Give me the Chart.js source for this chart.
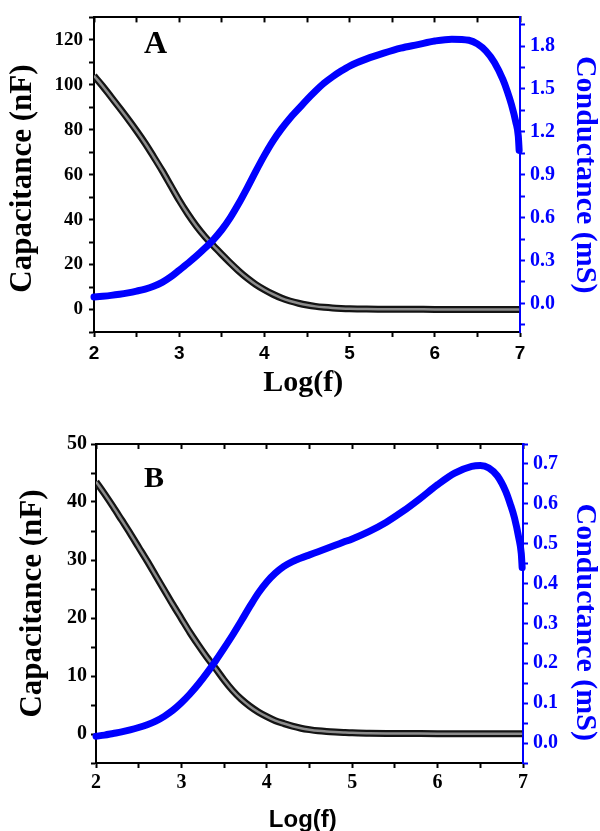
<!DOCTYPE html>
<html lang="en">
<head>
<meta charset="UTF-8">
<title>Capacitance and Conductance vs Log(f)</title>
<script src="https://cdn.jsdelivr.net/npm/chart.js"></script>
<style>
  body { margin: 0; background: #fff; }
  #wrap { position: relative; width: 600px; height: 831px; }
  #wrap canvas { position: absolute; left: 0; }
</style>
</head>
<body>
<div id="wrap">
  <canvas id="chartA" width="600" height="415" style="top:0"></canvas>
  <canvas id="chartB" width="600" height="416" style="top:415px"></canvas>
</div>
<script>
// ---- data ----
// log(f) positions, shared by both panels
const logF = [2.0, 2.1, 2.2, 2.3, 2.4, 2.5, 2.6, 2.7, 2.8, 2.9,
              3.0, 3.1, 3.2, 3.3, 3.4, 3.5, 3.6, 3.7, 3.8, 3.9,
              4.0, 4.1, 4.2, 4.3, 4.4, 4.5, 4.6, 4.7, 4.8, 4.9,
              5.0, 5.2, 5.4, 5.6, 5.8, 6.0, 6.2, 6.4, 6.5, 6.6,
              6.7, 6.8, 6.85, 6.9, 6.95, 6.98, 6.99];

// panel A
const capA = [104, 99.5, 94.6, 89.7, 84.7, 79.5, 74, 68, 61.8, 55.2,
              48.6, 42.6, 37.2, 32.5, 28.4, 24.5, 20.7, 17.1, 13.9, 11.1,
              8.8, 6.8, 5.1, 3.8, 2.8, 2.0, 1.4, 1.0, 0.7, 0.5,
              0.35, 0.2, 0.15, 0.1, 0.08, 0.06, 0.05, 0.05, 0.04, 0.04,
              0.04, 0.04, 0.03, 0.03, 0.03, 0.03, 0.03];
const condA = [0.045, 0.05, 0.056, 0.064, 0.074, 0.086, 0.1, 0.12, 0.147, 0.185,
               0.232, 0.28, 0.33, 0.385, 0.445, 0.515, 0.6, 0.7, 0.81, 0.925,
               1.035, 1.135, 1.22, 1.295, 1.36, 1.425, 1.485, 1.54, 1.585, 1.625,
               1.66, 1.71, 1.75, 1.785, 1.81, 1.835, 1.848, 1.84, 1.815, 1.765,
               1.685, 1.565, 1.485, 1.39, 1.27, 1.17, 1.07];

// panel B
const capB = [43.5, 41.4, 39.2, 36.9, 34.6, 32.2, 29.8, 27.3, 24.8, 22.3,
              19.9, 17.5, 15.3, 13.2, 11.3, 9.3, 7.5, 6.0, 4.8, 3.8,
              3.0, 2.3, 1.8, 1.35, 1.0, 0.75, 0.55, 0.42, 0.33, 0.26,
              0.2, 0.14, 0.1, 0.08, 0.07, 0.06, 0.05, 0.05, 0.05, 0.05,
              0.05, 0.05, 0.05, 0.05, 0.05, 0.05, 0.05];
const condB = [0.017, 0.02, 0.024, 0.028, 0.033, 0.039, 0.046, 0.055, 0.067, 0.082,
               0.101, 0.123, 0.148, 0.176, 0.206, 0.238, 0.271, 0.306, 0.342, 0.376,
               0.404, 0.426, 0.443, 0.455, 0.464, 0.472, 0.48, 0.488, 0.496, 0.504,
               0.512, 0.531, 0.554, 0.582, 0.614, 0.648, 0.677, 0.694, 0.696, 0.69,
               0.67, 0.63, 0.6, 0.565, 0.515, 0.475, 0.44];

// ticks
const xTicks = [2, 2.5, 3, 3.5, 4, 4.5, 5, 5.5, 6, 6.5, 7];
const xLabels = [2, 3, 4, 5, 6, 7];
const capTicksA = [-10, 0, 10, 20, 30, 40, 50, 60, 70, 80, 90, 100, 110, 120, 130];
const capLabelsA = [0, 20, 40, 60, 80, 100, 120];
const condTicksA = [-0.15, 0, 0.15, 0.3, 0.45, 0.6, 0.75, 0.9, 1.05, 1.2, 1.35, 1.5, 1.65, 1.8, 1.95];
const condLabelsA = [0, 0.3, 0.6, 0.9, 1.2, 1.5, 1.8];
const capTicksB = [-5, 0, 5, 10, 15, 20, 25, 30, 35, 40, 45, 50];
const capLabelsB = [0, 10, 20, 30, 40, 50];
const condTicksB = [-0.05, 0, 0.05, 0.1, 0.15, 0.2, 0.25, 0.3, 0.35, 0.4, 0.45, 0.5, 0.55, 0.6, 0.65, 0.7, 0.75];
const condLabelsB = [0, 0.1, 0.2, 0.3, 0.4, 0.5, 0.6, 0.7];

const SERIF = "'Liberation Serif', 'Times New Roman', serif";
const SANS = "'Liberation Sans', Arial, sans-serif";
const BLUE = '#0000ff';

const pts = (xs, ys) => xs.map((x, i) => ({ x: x, y: ys[i] }));
const fixedTicks = vals => scale => { scale.ticks = vals.map(v => ({ value: v })); };
const grid = color => ({ display: true, drawOnChartArea: false, drawTicks: true,
                         tickLength: 5, tickWidth: 2, tickColor: color });

// draws the panel letter (A / B)
const panelTag = {
  id: 'panelTag',
  afterDraw(chart, args, o) {
    const ctx = chart.ctx;
    ctx.save();
    ctx.font = 'bold ' + o.size + 'px ' + SERIF;
    ctx.fillStyle = '#000';
    ctx.textBaseline = 'alphabetic';
    ctx.fillText(o.text, o.x, o.y);
    ctx.restore();
  }
};

function makePanel(id, p) {
  const datasets = [
    { data: pts(logF, p.cond), yAxisID: 'yR', order: 0,
      borderColor: BLUE, borderWidth: 7, borderCapStyle: 'round', borderJoinStyle: 'round',
      pointRadius: 0, cubicInterpolationMode: 'monotone', clip: 6 },
    { data: pts(logF, p.cap), yAxisID: 'y', order: 1,
      borderColor: '#8c8c8c', borderWidth: 2.5, pointRadius: 0, cubicInterpolationMode: 'monotone' },
    { data: pts(logF, p.cap), yAxisID: 'y', order: 2,
      borderColor: '#141414', borderWidth: 7, pointRadius: 0, cubicInterpolationMode: 'monotone' }
  ];

  return new Chart(document.getElementById(id), {
    type: 'line',
    data: { datasets: datasets },
    plugins: [panelTag],
    options: {
      responsive: false,
      devicePixelRatio: 1,
      animation: false,
      layout: { padding: { top: p.top, left: 0, right: 0, bottom: 0 } },
      plugins: {
        legend: { display: false },
        tooltip: { enabled: false },
        panelTag: p.tag
      },
      scales: {
        x: {
          type: 'linear', position: 'bottom', min: 2, max: 7,
          afterBuildTicks: fixedTicks(xTicks),
          afterFit: s => { s.height = p.bottomH; },
          ticks: { autoSkip: false, maxRotation: 0, padding: p.xPad, color: '#000',
                   font: { family: p.xFont, size: p.xSize, weight: 'bold' },
                   callback: v => xLabels.includes(v) ? String(v) : '' },
          grid: grid('#000'),
          border: { display: true, color: '#000', width: 2 },
          title: { display: true, text: p.xTitle, color: '#000',
                   font: { family: p.xTitleFont, size: p.xTitleSize, weight: 'bold', lineHeight: 1 },
                   padding: { top: 0, bottom: p.xTitlePad } }
        },
        xTop: {
          type: 'linear', position: 'top', min: 2, max: 7,
          afterBuildTicks: fixedTicks(xTicks),
          afterFit: s => { s.height = 0; },
          ticks: { display: false },
          grid: { display: true, drawOnChartArea: false, drawTicks: true,
                  tickLength: -5, tickWidth: 2, tickColor: '#000' },
          border: { display: true, color: '#000', width: 2 }
        },
        y: {
          type: 'linear', position: 'left', min: p.capMin, max: p.capMax,
          afterBuildTicks: fixedTicks(p.capTicks),
          afterFit: s => { s.width = p.leftW; },
          ticks: { autoSkip: false, padding: p.yPad, color: '#000',
                   font: { family: SERIF, size: p.ySize, weight: 'bold' },
                   callback: v => p.capLabels.includes(v) ? String(v) : '' },
          grid: grid('#000'),
          border: { display: true, color: '#000', width: 2 },
          title: { display: true, text: p.capTitle, color: '#000',
                   font: { family: SERIF, size: 31, weight: 'bold', lineHeight: 1 },
                   padding: { top: p.capTitlePad, bottom: 0 } }
        },
        yR: {
          type: 'linear', position: 'right', min: p.condMin, max: p.condMax,
          afterBuildTicks: fixedTicks(p.condTicks),
          afterFit: s => { s.width = 600 - p.rightX; },
          ticks: { autoSkip: false, padding: 5, color: BLUE,
                   font: { family: SERIF, size: p.rSize, weight: 'bold' },
                   callback: v => p.condLabels.includes(v) ? v.toFixed(1) : '' },
          grid: grid(BLUE),
          border: { display: true, color: BLUE, width: 2 },
          title: { display: true, text: p.condTitle, color: BLUE,
                   font: { family: SERIF, size: 30, weight: 'bold', lineHeight: 1 },
                   padding: { top: 0, bottom: 0 } }
        }
      }
    }
  });
}

makePanel('chartA', {
  cap: capA, cond: condA,
  top: 14, bottomH: 83, leftW: 94, rightX: 520,
  capMin: -10, capMax: 130, capTicks: capTicksA, capLabels: capLabelsA,
  condMin: -0.2, condMax: 2.0, condTicks: condTicksA, condLabels: condLabelsA,
  xFont: SANS, xSize: 19, xPad: 5,
  xTitle: 'Log(f) ', xTitleFont: SERIF, xTitleSize: 30, xTitlePad: 17,
  yPad: 6, ySize: 19, rSize: 20,
  capTitle: 'Capacitance (nF) ', capTitlePad: 7,
  condTitle: 'Conductance (mS)',
  tag: { text: 'A', x: 144, y: 53, size: 32 }
});

makePanel('chartB', {
  cap: capB, cond: condB,
  top: 29, bottomH: 68, leftW: 96, rightX: 523,
  capMin: -5, capMax: 50, capTicks: capTicksB, capLabels: capLabelsB,
  condMin: -0.05, condMax: 0.75, condTicks: condTicksB, condLabels: condLabelsB,
  xFont: SERIF, xSize: 20, xPad: 3,
  xTitle: 'Log(f)  ', xTitleFont: SANS, xTitleSize: 24, xTitlePad: -1,
  yPad: 4, ySize: 20, rSize: 20,
  capTitle: 'Capacitance (nF)', capTitlePad: 17,
  condTitle: '     Conductance (mS)',
  tag: { text: 'B', x: 144, y: 72, size: 30 }
});
</script>
</body>
</html>
